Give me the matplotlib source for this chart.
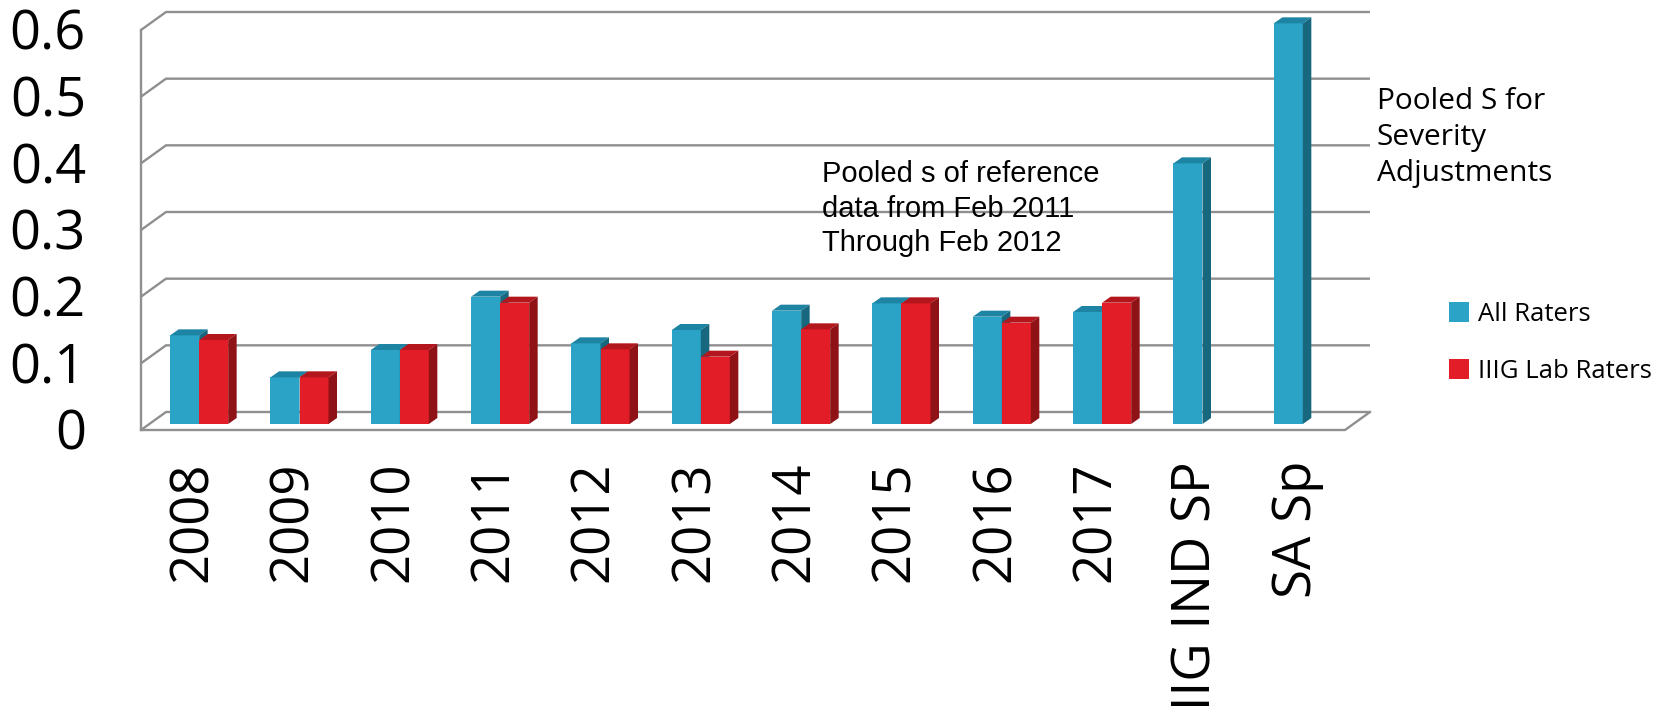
import matplotlib.pyplot as plt
from matplotlib.patches import Polygon, Rectangle, Patch
from matplotlib.transforms import ScaledTranslation

categories = ["2008", "2009", "2010", "2011", "2012", "2013", "2014", "2015",
              "2016", "2017", "IIIG IND SP", "SA Sp"]
all_raters = [0.133, 0.070, 0.111, 0.191, 0.121, 0.141, 0.170, 0.181, 0.161, 0.168, 0.391, 0.601]
lab_raters = [0.126, 0.070, 0.111, 0.182, 0.112, 0.101, 0.142, 0.181, 0.152, 0.182, None, None]
y_ticks = [0, 0.1, 0.2, 0.3, 0.4, 0.5, 0.6]
y_labels = ["0", "0.1", "0.2", "0.3", "0.4", "0.5", "0.6"]

series = [
    ("All Raters", all_raters, ("#2aa3c6", "#1d84a3", "#17687f")),
    ("IIIG Lab Raters", lab_raters, ("#e21d27", "#b4161d", "#8f1217")),
]

UI_FONT = ["Open Sans", "DejaVu Sans"]
GRID = "#8f8f8f"

fig = plt.figure(figsize=(16.75, 7.06), dpi=100)
W, H = 1675, 706
# axes = the plane of the bar fronts
ax = fig.add_axes([149 / W, (H - 424) / H, 1204 / W, 400 / H])
ax.set_xlim(-0.5, len(categories) - 0.5)
ax.set_ylim(0, 0.6)
ax.axis("off")


def px(dx, dy):
    # pixel offset -> data offset
    p0 = ax.transData.transform((0, 0))
    d = ax.transData.inverted().transform((p0[0] + dx, p0[1] + dy))
    return d[0], d[1]


front = px(-8, -6)
back = px(17, 12)
depth = px(8.5, 6)
x_lo, x_hi = -0.5, len(categories) - 0.5

# walls and gridlines
for v in y_ticks:
    xs = [x_lo + front[0], x_lo + back[0], x_hi + back[0]]
    ys = [v + front[1], v + back[1], v + back[1]]
    ax.plot(xs, ys, color=GRID, lw=1.7, clip_on=False, zorder=1, solid_capstyle="butt")
ax.plot([x_lo + front[0]] * 2, [y_ticks[0] + front[1], y_ticks[-1] + front[1]],
        color=GRID, lw=1.7, clip_on=False, zorder=1)
ax.plot([x_lo + front[0], x_hi + front[0], x_hi + back[0]],
        [front[1], front[1], back[1]], color=GRID, lw=1.7, clip_on=False, zorder=1)

# 3d-looking bars
bw = 29 / 100.33
for i in range(len(categories)):
    for k, (name, vals, (c_front, c_top, c_side)) in enumerate(series):
        v = vals[i]
        if v is None:
            continue
        x0 = i - bw + k * bw
        x1 = x0 + bw
        ax.add_patch(Rectangle((x0, 0), bw, v, facecolor=c_front, edgecolor="none",
                               zorder=3, clip_on=False))
        ax.add_patch(Polygon([(x0, v), (x1, v), (x1 + depth[0], v + depth[1]),
                              (x0 + depth[0], v + depth[1])],
                             facecolor=c_top, edgecolor="none", zorder=3, clip_on=False))
        ax.add_patch(Polygon([(x1, 0), (x1, v), (x1 + depth[0], v + depth[1]),
                              (x1 + depth[0], depth[1])],
                             facecolor=c_side, edgecolor="none", zorder=3, clip_on=False))

# category labels
xoff = ScaledTranslation(-6 / 100, -37 / 100, fig.dpi_scale_trans)
for i, name in enumerate(categories):
    ax.text(i, 0, name, transform=ax.transData + xoff, rotation=90, ha="center",
            va="top", fontsize=38, family=UI_FONT, clip_on=False)

# value labels
yoff = ScaledTranslation(-63 / 100, -5 / 100, fig.dpi_scale_trans)
for v, lab in zip(y_ticks, y_labels):
    ax.text(x_lo, v, lab, transform=ax.transData + yoff, ha="right", va="center_baseline",
            fontsize=39, family=UI_FONT)

fig.text(822 / W, 1 - 160 / H, "Pooled s of reference\ndata from Feb 2011\nThrough Feb 2012",
         ha="left", va="top", fontsize=21, family=["Liberation Sans", "DejaVu Sans"],
         linespacing=1.3)
fig.text(1377 / W, 1 - 87 / H, "Pooled S for\nSeverity\nAdjustments",
         ha="left", va="top", fontsize=21.5, family=UI_FONT, linespacing=1.32)

handles = [Patch(facecolor=c[0], edgecolor="none") for _, _, c in series]
fig.legend(handles, [s[0] for s in series], loc="upper left",
           bbox_to_anchor=(1436 / W, 1 - 289 / H), frameon=False, borderpad=0,
           handlelength=0.8, handleheight=0.8, handletextpad=0.35, labelspacing=1.25,
           prop={"family": UI_FONT, "size": 18.5})

fig.savefig("out.png", dpi=100)
